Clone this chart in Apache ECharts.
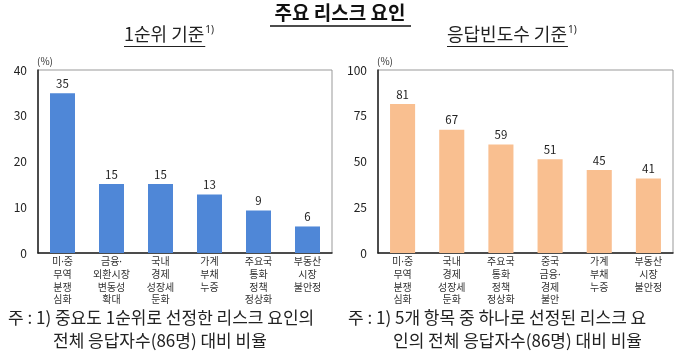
<!DOCTYPE html>
<html><head><meta charset="utf-8">
<script src="https://cdn.jsdelivr.net/npm/echarts@6/dist/echarts.min.js"></script>
<style>html,body{margin:0;padding:0;background:#fff}#c{width:680px;height:359px}</style>
</head><body><div id="c"></div>
<script>
const catsLeft = ['미·중\n무역\n분쟁\n심화','금융·\n외환시장\n변동성\n확대','국내\n경제\n성장세\n둔화','가계\n부채\n누증','주요국\n통화\n정책\n정상화','부동산\n시장\n불안정'];
const valsLeft = [34.9, 15.1, 15.1, 12.8, 9.3, 5.8];
const catsRight = ['미·중\n무역\n분쟁\n심화','국내\n경제\n성장세\n둔화','주요국\n통화\n정책\n정상화','중국\n금융·\n경제\n불안','가계\n부채\n누증','부동산\n시장\n불안정'];
const valsRight = [81.4, 67.4, 59.3, 51.2, 45.3, 40.7];
const ticksLeft = {min:0, max:40, interval:10};
const ticksRight = {min:0, max:100, interval:25};

const FONT = '"Noto Sans CJK KR","Noto Sans",sans-serif';
const FONT_LAT = '"Noto Sans","Noto Sans CJK KR",sans-serif';
const chart = echarts.init(document.getElementById('c'));
const mctx = document.createElement('canvas').getContext('2d');
function tw(text, font){ mctx.font = font; return mctx.measureText(text).width; }

function yAx(idx, t){
  return {gridIndex:idx, type:'value', min:t.min, max:t.max, interval:t.interval,
    name:'(%)', nameLocation:'end', nameGap:4,
    nameTextStyle:{fontSize:10, color:'#333', align:'left', fontFamily:FONT, padding:[0,0,0,-1]},
    axisLine:{show:true, lineStyle:{color:'#222', width:1.5}},
    axisTick:{show:false}, splitLine:{show:false},
    axisLabel:{fontSize:12, color:'#222', margin:11, fontFamily:FONT}};
}
function xAx(idx, cats){
  return {gridIndex:idx, type:'category', data:cats,
    axisLine:{show:true, lineStyle:{color:'#222', width:1.5}},
    axisTick:{show:false},
    axisLabel:{interval:0, fontSize:10, lineHeight:12.7, color:'#333', margin:3, fontFamily:FONT_LAT}};
}
function ser(idx, vals, color){
  return {type:'bar', xAxisIndex:idx, yAxisIndex:idx, data:vals, barWidth:'51%',
    itemStyle:{color:color},
    label:{show:true, position:'top', distance:4, fontSize:11.5, color:'#222', fontFamily:FONT,
      formatter:p=>Math.round(p.value)}};
}
function subtitle(text, x){
  const f = '18px ' + FONT;
  const w = tw(text, f);
  return [
    {type:'text', left:x, top:25, style:{text:text, font:f, fill:'#222'}},
    {type:'text', left:x + w + 1, top:25, style:{text:'1)', font:'10px '+FONT_LAT, fill:'#222'}},
    {type:'line', shape:{x1:x, y1:46.5, x2:x + w + 1, y2:46.5}, style:{stroke:'#222', lineWidth:1}}
  ];
}
const gridStyle = {show:true, borderColor:'#999', borderWidth:1, containLabel:false};
chart.setOption({
  animation:false,
  textStyle:{fontFamily:FONT},
  grid:[
    Object.assign({left:38, top:70, width:294, height:183}, gridStyle),
    Object.assign({left:378, top:70, width:295, height:183}, gridStyle)
  ],
  xAxis:[xAx(0, catsLeft), xAx(1, catsRight)],
  yAxis:[yAx(0, ticksLeft), yAx(1, ticksRight)],
  series:[ser(0, valsLeft, '#4F87D7'), ser(1, valsRight, '#F9BF90')],
  graphic:[
    {type:'text', left:'center', top:3, style:{text:'주요 리스크 요인', font:'bold 19px '+FONT, fill:'#111'}},
    {type:'line', shape:{x1:270, y1:26, x2:411, y2:26}, style:{stroke:'#111', lineWidth:1.5}}
  ].concat(subtitle('1순위 기준', 124), subtitle('응답빈도수 기준', 447), [
    {type:'text', left:8, top:309, style:{text:'주 : 1) 중요도 1순위로 선정한 리스크 요인의', font:'17px '+FONT, fill:'#222'}},
    {type:'text', left:53, top:332, style:{text:'전체 응답자수(86명) 대비 비율', font:'17px '+FONT, fill:'#222'}},
    {type:'text', left:348, top:309, style:{text:'주 : 1) 5개 항목 중 하나로 선정된 리스크 요', font:'17px '+FONT, fill:'#222'}},
    {type:'text', left:393, top:332, style:{text:'인의 전체 응답자수(86명) 대비 비율', font:'17px '+FONT, fill:'#222'}}
  ])
});
</script></body></html>
